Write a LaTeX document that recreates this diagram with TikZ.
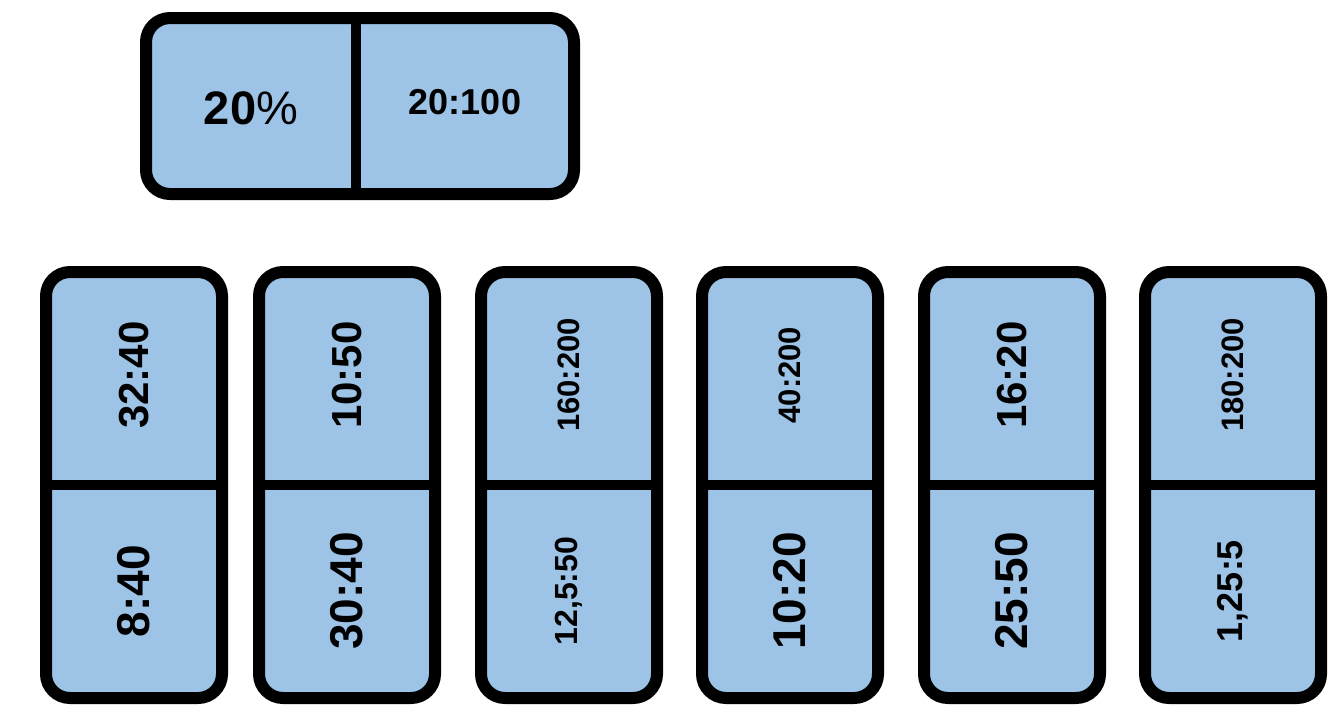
\documentclass[tikz,border=0pt]{standalone}
\usepackage{fontspec}
\setmainfont{Liberation Sans}
\definecolor{cardblue}{HTML}{9DC3E6}
\begin{document}
\begin{tikzpicture}[x=1pt,y=-1pt,
  card/.style={draw=black,line width=12pt,fill=cardblue,rounded corners=24pt,inner sep=0pt},
  divider/.style={draw=black,line width=10pt},
  lab/.style={font=\bfseries\fontsize{#1}{#1}\selectfont,inner sep=0pt},
  vlab/.style={lab=#1,rotate=90}]
\useasboundingbox (0,0) rectangle (1342,716);
% top card
\node[card,minimum width=428pt,minimum height=176pt] (top) at (360,106) {};
\coordinate (tdA) at (356,18);
\coordinate (tdB) at (356,194);
\draw[divider] (tdA) -- (tdB);
\node[lab=47] (pct) at (251,108) {20{\mdseries\%}};
\node[lab=36] (ratio) at (465,102) {20:100};
% bottom cards
\foreach \i/\x/\ta/\sa/\tb/\sb in {
  1/134/32:40/42/8:40/46,
  2/347/10:50/42/30:40/46,
  3/569/160:200/31/{12,5:50}/32,
  4/790/40:200/31/10:20/46,
  5/1012/16:20/42/25:50/46,
  6/1233/180:200/31/{1,25:5}/36}{
  \node[card,minimum width=176pt,minimum height=426pt] (c\i) at (\x,485) {};
  \draw[divider] (c\i.west) -- (c\i.east);
  \node[vlab=\sa] (t\i) at (\x,375) {\ta};
  \node[vlab=\sb] (b\i) at (\x,591) {\tb};
}
\end{tikzpicture}
\end{document}
